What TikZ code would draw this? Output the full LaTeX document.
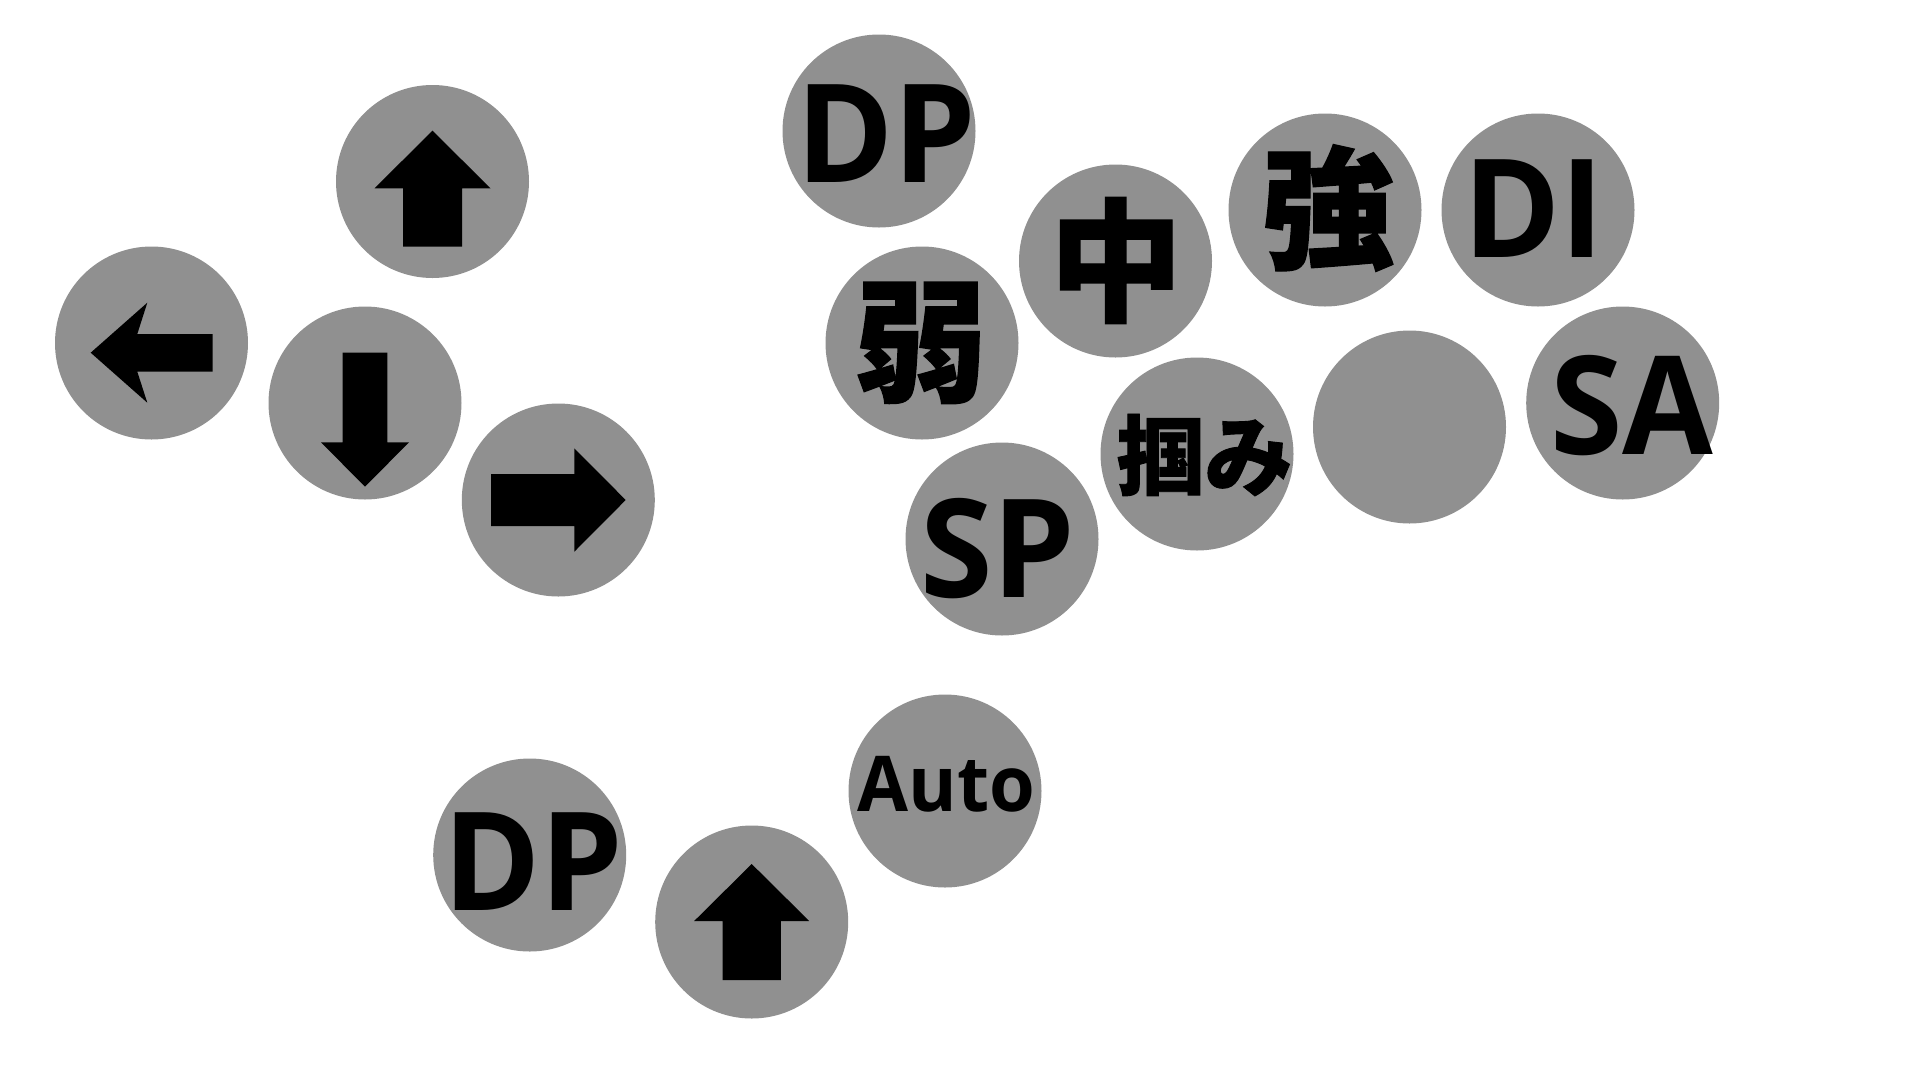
\documentclass[tikz,border=0pt]{standalone}
\usepackage{fontspec}
\setmainfont{Open Sans}
\newfontfamily\jpfont{Noto Sans CJK JP}[BoldFeatures={FakeBold=1}]
\definecolor{btngray}{HTML}{909090}
\tikzset{
  btn/.style={circle, fill=btngray, draw=none, minimum size=193pt, inner sep=0pt},
  lbl/.style={inner sep=0pt, text=black, font=\bfseries\fontsize{137}{137}\selectfont},
  small lbl/.style={inner sep=0pt, text=black, font=\bfseries\fontsize{77}{77}\selectfont},
  jlbl/.style={inner sep=0pt, text=black, font=\jpfont\bfseries\fontsize{133}{133}\selectfont},
  jsmall/.style={inner sep=0pt, text=black, font=\jpfont\bfseries\fontsize{88}{88}\selectfont},
  arr/.style={fill=black, draw=none},
}
\newcommand{\sqz}[1]{\scalebox{0.96}[1]{#1}}
\begin{document}
\begin{tikzpicture}[x=1pt,y=-1pt]
\useasboundingbox (0,0) rectangle (1920,1080);
% buttons
\node[btn] (up1) at (432.5,181.5) {};
\node[btn] (left) at (151.5,343) {};
\node[btn] (down) at (365,403) {};
\node[btn] (right) at (558.3,500) {};
\node[btn] (dp1) at (879,131) {};
\node[btn] (jaku) at (922,343) {};
\node[btn] (chu) at (1115.5,261) {};
\node[btn] (kyo) at (1325,210) {};
\node[btn] (di) at (1538,210) {};
\node[btn] (tsukami) at (1197,454) {};
\node[btn] (sp) at (1002,539) {};
\node[btn] (blank) at (1409.5,427) {};
\node[btn] (sa) at (1622.7,403) {};
\node[btn] (auto) at (945,791) {};
\node[btn] (dp2) at (529.7,855) {};
\node[btn] (up2) at (751.7,922) {};
% arrows
\fill[arr, shift={(up1.center)}] (0,-50.8) -- (58,6.8) -- (29.5,6.8) -- (29.5,65.2) -- (-29.5,65.2) -- (-29.5,6.8) -- (-58,6.8) -- cycle;
\fill[arr, shift={(left.center)}] (-60.8,9.7) -- (-4.2,-40.3) -- (-14.2,-9) -- (61.2,-9) -- (61.2,28.7) -- (-14.2,28.7) -- (-4.2,59.7) -- cycle;
\fill[arr, shift={(down.center)}] (-22.3,-50.3) -- (22.3,-50.3) -- (22.3,39.3) -- (44,39.3) -- (0,83.7) -- (-44,39.3) -- (-22.3,39.3) -- cycle;
\fill[arr, shift={(right.center)}] (-67.3,-26) -- (16,-26) -- (16,-51.7) -- (67.4,0) -- (16,51.7) -- (16,26) -- (-67.3,26) -- cycle;
\fill[arr, shift={(up2.center)}] (0,-58) -- (57.5,-1) -- (29.2,-1) -- (29.2,58) -- (-29.2,58) -- (-29.2,-1) -- (-57.5,-1) -- cycle;
% labels
\node[lbl] (t-dp1) at (886,134) {\sqz{DP}};
\node[jlbl] (t-jaku) at (921,343) {弱};
\node[jlbl] (t-chu) at (1116,260.5) {中};
\node[jlbl] (t-kyo) at (1328,208) {強};
\node[lbl] (t-di) at (1534,209) {\sqz{DI}};
\node[jsmall] (t-tsukami) at (1204.5,455) {掴み};
\node[lbl] (t-sp) at (998,549) {\sqz{SP}};
\node[lbl] (t-sa) at (1632,406) {\sqz{SA}};
\node[small lbl] (t-auto) at (946.7,784) {\sqz{Auto}};
\node[lbl] (t-dp2) at (533,862) {\sqz{DP}};
\end{tikzpicture}
\end{document}
